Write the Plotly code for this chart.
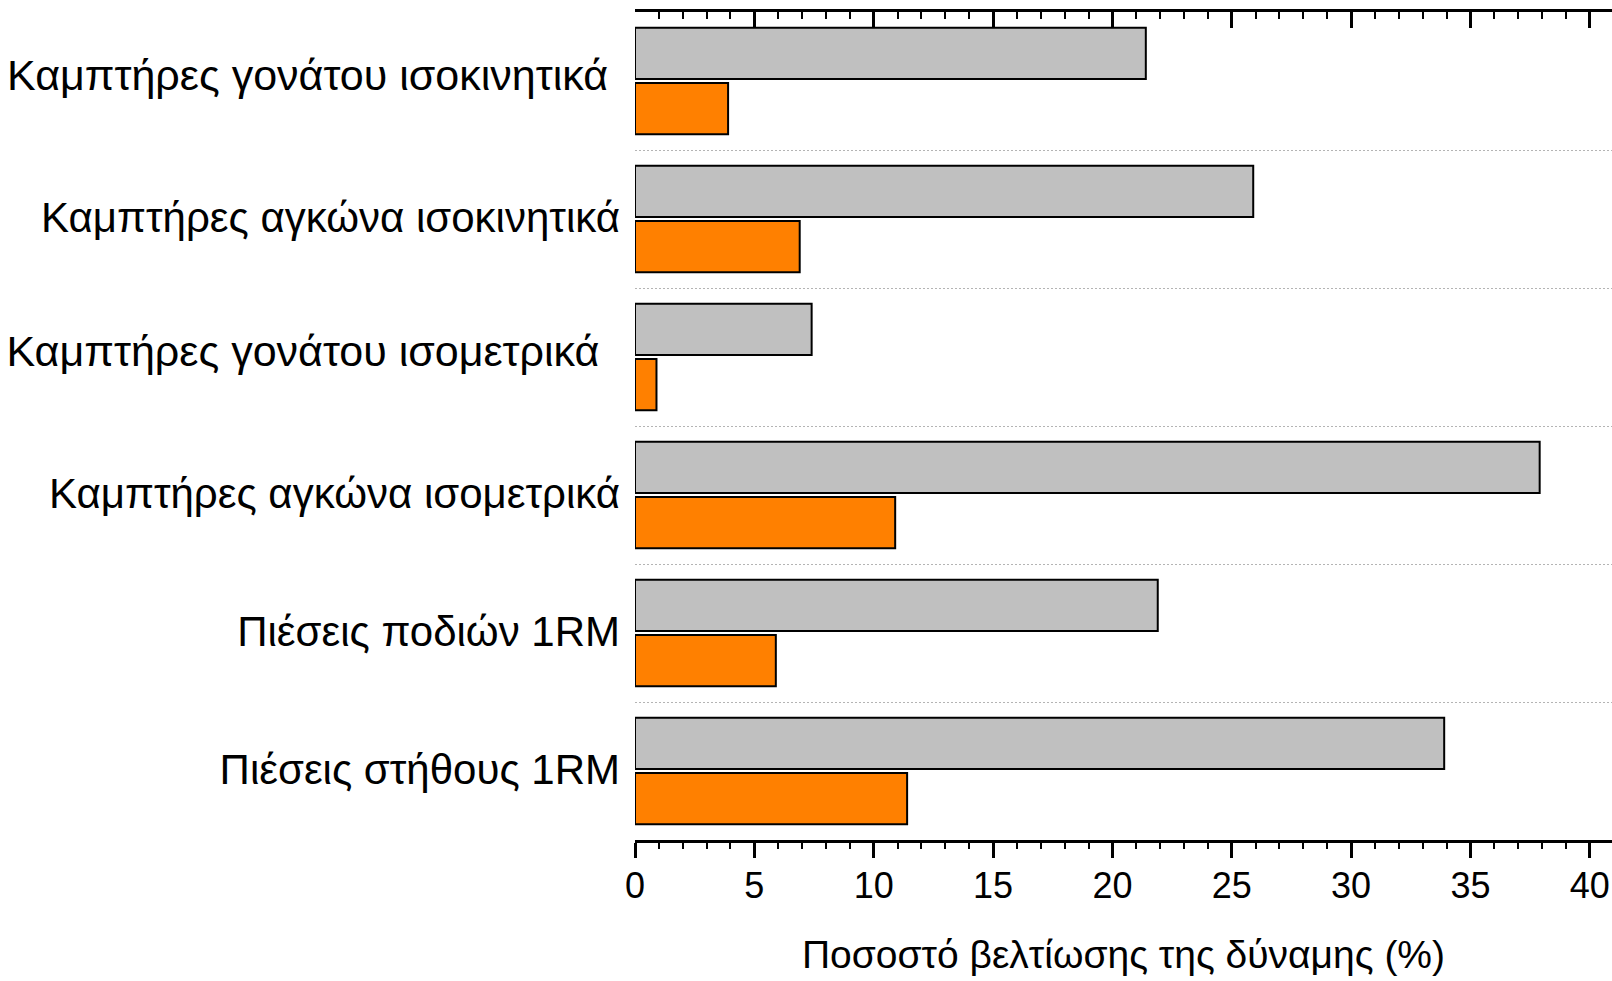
import plotly.graph_objects as go

# Muscle groups / tests, listed top to bottom
categories = [
    "Καμπτήρες γονάτου ισοκινητικά",
    "Καμπτήρες αγκώνα ισοκινητικά",
    "Καμπτήρες γονάτου ισομετρικά",
    "Καμπτήρες αγκώνα ισομετρικά",
    "Πιέσεις ποδιών 1RM",
    "Πιέσεις στήθους 1RM",
]
# Strength improvement (%) for the two groups
gray_values = [21.4, 25.9, 7.4, 37.9, 21.9, 33.9]
orange_values = [3.9, 6.9, 0.9, 10.9, 5.9, 11.4]

x_title = "Ποσοστό βελτίωσης της δύναμης (%)"
x_max = 40.93

FONT = "Liberation Sans, Arial, sans-serif"
# Per-label typography: (size in px, vertical lift in px, trailing padding)
label_styles = [
    (43, 4, "\u00a0"),
    (42, 0, ""),
    (43, 4, "\u00a0\u2009"),
    (42, 0, ""),
    (42, 0, ""),
    (42, 0, ""),
]

positions = list(range(len(categories)))
tick_text = [
    f'<span style="font-size:{size}px;baseline-shift:{lift}px">{lab}{pad}</span>'
    for lab, (size, lift, pad) in zip(categories, label_styles)
]
boundaries = [p + 0.5 for p in positions[:-1]]

fig = go.Figure()
fig.add_trace(go.Bar(
    x=gray_values, y=positions, orientation="h",
    marker=dict(color="#C0C0C0", line=dict(color="black", width=2)),
    showlegend=False, hoverinfo="x",
))
fig.add_trace(go.Bar(
    x=orange_values, y=positions, orientation="h",
    marker=dict(color="#FF8000", line=dict(color="black", width=2)),
    showlegend=False, hoverinfo="x",
))
# Carrier trace so the mirrored top axis is drawn
fig.add_trace(go.Scatter(x=[], y=[], xaxis="x2", showlegend=False, hoverinfo="skip"))

fig.update_layout(
    width=1612, height=981,
    margin=dict(l=635, r=0, t=12, b=141, pad=0),
    paper_bgcolor="white", plot_bgcolor="white",
    barmode="group", bargap=0.2, bargroupgap=0.07,
    font=dict(family=FONT, color="black"),
    xaxis=dict(
        range=[0, x_max], tick0=0, dtick=5, automargin=False,
        showgrid=False, zeroline=False,
        showline=True, linecolor="black", linewidth=3,
        ticks="outside", ticklen=15, tickwidth=2.5, tickcolor="black",
        minor=dict(dtick=1, ticks="outside", ticklen=6, tickwidth=2, tickcolor="black"),
        tickfont=dict(size=36, family=FONT, color="black"),
        ticklabelstandoff=-3,
        title=dict(text=x_title, font=dict(size=39, family=FONT, color="black"), standoff=36),
    ),
    xaxis2=dict(
        overlaying="x", side="top", anchor="y", matches="x", automargin=False,
        range=[0, x_max], tick0=0, dtick=5,
        showgrid=False, zeroline=False, showticklabels=False,
        showline=True, linecolor="black", linewidth=3,
        ticks="inside", ticklen=16, tickwidth=2.5, tickcolor="black",
        minor=dict(dtick=1, ticks="inside", ticklen=7, tickwidth=2, tickcolor="black"),
    ),
    yaxis=dict(
        range=[len(categories) - 0.5, -0.5], automargin=False,
        tickmode="array", tickvals=positions, ticktext=tick_text,
        ticks="", showline=False, showgrid=False, zeroline=False,
        tickfont=dict(size=38, family=FONT, color="black"),
        ticklabelstandoff=14,
        minor=dict(tickvals=boundaries, showgrid=True, gridcolor="#b4b4b4",
                   gridwidth=1, griddash="2px,2px", ticks=""),
    ),
)

fig.write_html("out.html")
